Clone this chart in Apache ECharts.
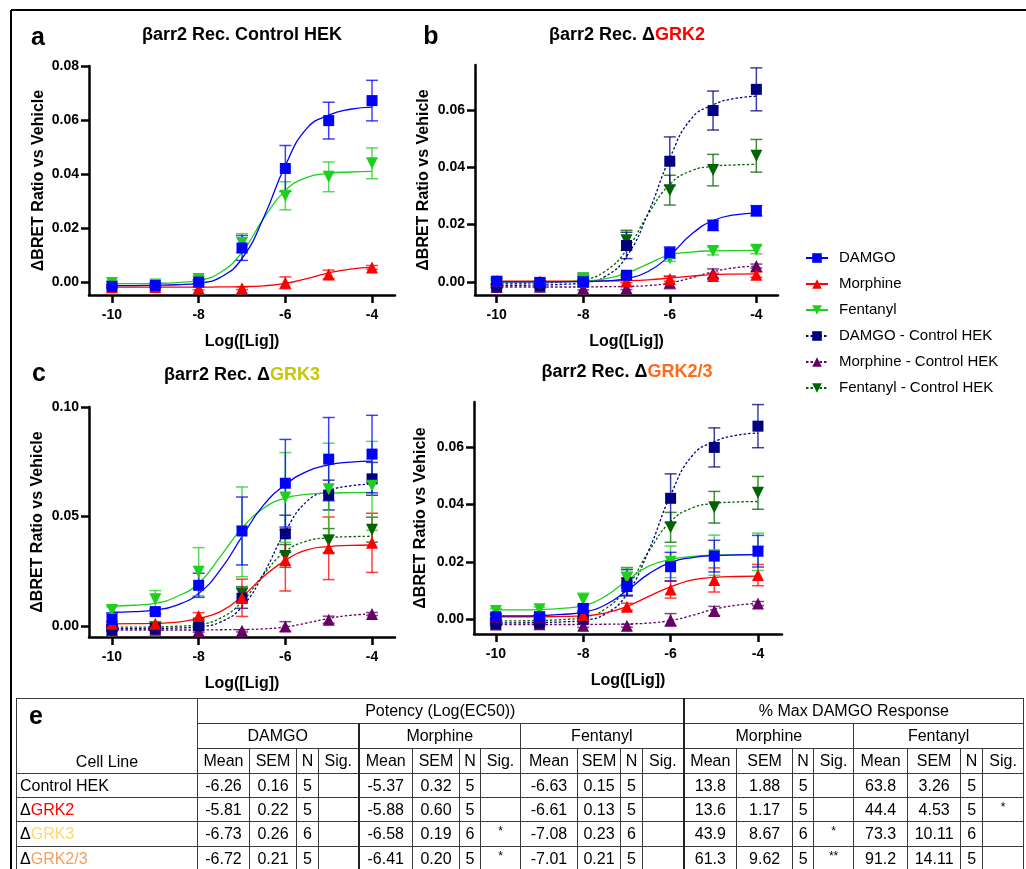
<!DOCTYPE html>
<html>
<head>
<meta charset="utf-8">
<title>barr2 recruitment</title>
<script src="https://cdn.jsdelivr.net/npm/echarts@6.0.0/dist/echarts.min.js"></script>
<style>
  body { margin: 0; background: #fff; }
  #page { position: relative; width: 1026px; height: 869px; overflow: hidden; background: #fff; }
  #chart { position: absolute; left: 0; top: 0; width: 1026px; height: 869px; }
  #tbl { position: absolute; left: 16px; top: 698px; font-family: 'Liberation Sans', Arial, sans-serif; }
  #tbl table { border-collapse: collapse; table-layout: fixed; width: 1007px; font-size: 16px; color: #000; }
  #tbl td { border: 1px solid #3a3a3a; padding: 0; text-align: center; white-space: nowrap; overflow: hidden; line-height: 20px; }
  #tbl td.gl { border-left: 2px solid #222; }
  #tbl td.name { text-align: left; padding-left: 3px; }
  #tbl td.cl { vertical-align: bottom; padding-bottom: 1px; }
  #tbl td.sig { font-size: 12px; vertical-align: top; line-height: 18px; }
  #tbl .letter { position: absolute; left: 13px; top: 5px; font: bold 25px 'Liberation Sans', Arial, sans-serif; line-height: 25px; }
</style>
</head>
<body>
<div id="page">
  <div id="chart"></div>
  <div id="tbl"></div>
</div>
<script>
const FONT = "'Liberation Sans', Arial, sans-serif";

// log concentrations of the measured points
const doses = [-10, -9, -8, -7, -6, -5, -4];
const fitX = [-10, -9.5, -9, -8.5, -8, -7.5, -7, -6.5, -6, -5.5, -5, -4.5, -4];
const xTicks = [-10, -8, -6, -4];

// Control HEK
const ctlDamgoMean = [-0.0015, -0.0012, 0.0001, 0.0127, 0.0421, 0.0598, 0.0672];
const ctlDamgoSem = [0.0005, 0.0005, 0.0008, 0.0046, 0.0085, 0.0068, 0.0075];
const ctlDamgoFit = [-0.0012, -0.0012, -0.0011, -0.0009, -0.0003, 0.0018, 0.0088, 0.0240, 0.0432, 0.0570, 0.0618, 0.0640, 0.0648];
const ctlMorphMean = [-0.0018, -0.0017, -0.0022, -0.0022, -0.0002, 0.0029, 0.0055];
const ctlMorphSem = [0.0004, 0.0004, 0.0006, 0.0005, 0.0022, 0.0016, 0.0007];
const ctlMorphFit = [-0.0018, -0.0018, -0.0018, -0.0018, -0.0018, -0.0017, -0.0016, -0.0013, -0.0004, 0.0014, 0.0035, 0.0049, 0.0055];
const ctlFentMean = [-0.0003, -0.0008, 0.0012, 0.0145, 0.0320, 0.0390, 0.0440];
const ctlFentSem = [0.0008, 0.0006, 0.0012, 0.0035, 0.0052, 0.0055, 0.0057];
const ctlFentFit = [-0.0005, -0.0005, -0.0004, -0.0001, 0.0007, 0.0036, 0.0111, 0.0236, 0.0340, 0.0388, 0.0403, 0.0408, 0.0410];

// dGRK2
const g2DamgoMean = [0.0002, -0.0002, 0.0000, 0.0023, 0.0102, 0.0197, 0.0248];
const g2DamgoSem = [0.0008, 0.0005, 0.0005, 0.0006, 0.0020, 0.0018, 0.0018];
const g2DamgoFit = [0.0000, 0.0000, 0.0000, 0.0000, 0.0001, 0.0003, 0.0011, 0.0036, 0.0092, 0.0166, 0.0214, 0.0234, 0.0240];
const g2MorphMean = [0.0003, 0.0001, 0.0000, 0.0002, 0.0010, 0.0020, 0.0025];
const g2MorphSem = [0.0012, 0.0004, 0.0004, 0.0005, 0.0008, 0.0010, 0.0009];
const g2MorphFit = [0.0002, 0.0002, 0.0002, 0.0002, 0.0002, 0.0003, 0.0004, 0.0007, 0.0013, 0.0020, 0.0025, 0.0027, 0.0028];
const g2FentMean = [0.0000, -0.0004, 0.0012, 0.0020, 0.0082, 0.0108, 0.0112];
const g2FentSem = [0.0005, 0.0005, 0.0006, 0.0006, 0.0010, 0.0014, 0.0014];
const g2FentFit = [0.0000, 0.0000, 0.0000, 0.0001, 0.0003, 0.0010, 0.0030, 0.0063, 0.0094, 0.0104, 0.0108, 0.0109, 0.0110];

// dGRK3
const g3DamgoMean = [0.0030, 0.0066, 0.0186, 0.0434, 0.0652, 0.0762, 0.0785];
const g3DamgoSem = [0.0030, 0.0010, 0.0055, 0.0155, 0.0200, 0.0190, 0.0177];
const g3DamgoFit = [0.0063, 0.0066, 0.0073, 0.0096, 0.0149, 0.0256, 0.0408, 0.0553, 0.0645, 0.0706, 0.0736, 0.0748, 0.0753];
const g3MorphMean = [0.0010, 0.0010, 0.0046, 0.0129, 0.0300, 0.0355, 0.0380];
const g3MorphSem = [0.0010, 0.0010, 0.0015, 0.0085, 0.0140, 0.0143, 0.0135];
const g3MorphFit = [0.0010, 0.0011, 0.0012, 0.0018, 0.0035, 0.0066, 0.0134, 0.0226, 0.0300, 0.0348, 0.0363, 0.0368, 0.0370];
const g3FentMean = [0.0073, 0.0122, 0.0248, 0.0430, 0.0587, 0.0625, 0.0640];
const g3FentSem = [0.0015, 0.0040, 0.0110, 0.0205, 0.0205, 0.0210, 0.0203];
const g3FentFit = [0.0091, 0.0095, 0.0104, 0.0135, 0.0195, 0.0317, 0.0447, 0.0538, 0.0584, 0.0601, 0.0607, 0.0609, 0.0610];

// dGRK2/3
const g23DamgoMean = [0.0009, 0.0009, 0.0038, 0.0114, 0.0183, 0.0220, 0.0237];
const g23DamgoSem = [0.0010, 0.0008, 0.0012, 0.0030, 0.0050, 0.0055, 0.0055];
const g23DamgoFit = [0.0012, 0.0012, 0.0013, 0.0017, 0.0025, 0.0050, 0.0100, 0.0158, 0.0198, 0.0215, 0.0222, 0.0224, 0.0225];
const g23MorphMean = [0.0010, 0.0010, 0.0015, 0.0044, 0.0104, 0.0137, 0.0154];
const g23MorphSem = [0.0005, 0.0005, 0.0008, 0.0012, 0.0030, 0.0042, 0.0037];
const g23MorphFit = [0.0009, 0.0009, 0.0009, 0.0010, 0.0012, 0.0022, 0.0045, 0.0080, 0.0113, 0.0137, 0.0146, 0.0149, 0.0150];
const g23FentMean = [0.0029, 0.0035, 0.0069, 0.0145, 0.0200, 0.0223, 0.0235];
const g23FentSem = [0.0008, 0.0008, 0.0022, 0.0035, 0.0055, 0.0070, 0.0065];
const g23FentFit = [0.0033, 0.0033, 0.0034, 0.0038, 0.0048, 0.0080, 0.0135, 0.0185, 0.0208, 0.0219, 0.0223, 0.0224, 0.0225];

const legendNames = ['DAMGO', 'Morphine', 'Fentanyl', 'DAMGO - Control HEK', 'Morphine - Control HEK', 'Fentanyl - Control HEK'];

// table e
const cellLines = ['Control HEK', 'GRK2', 'GRK3', 'GRK2/3'];
const cellLineColors = ['#000000', '#FF0000', '#FFD966', '#F3A05C'];
const groupNames = ['DAMGO', 'Morphine', 'Fentanyl', 'Morphine', 'Fentanyl'];
const subHeads = ['Mean', 'SEM', 'N', 'Sig.'];
const potencyDamgo = [['-6.26', '0.16', '5', ''], ['-5.81', '0.22', '5', ''], ['-6.73', '0.26', '6', ''], ['-6.72', '0.21', '5', '']];
const potencyMorphine = [['-5.37', '0.32', '5', ''], ['-5.88', '0.60', '5', ''], ['-6.58', '0.19', '6', '*'], ['-6.41', '0.20', '5', '*']];
const potencyFentanyl = [['-6.63', '0.15', '5', ''], ['-6.61', '0.13', '5', ''], ['-7.08', '0.23', '6', ''], ['-7.01', '0.21', '5', '']];
const maxMorphine = [['13.8', '1.88', '5', ''], ['13.6', '1.17', '5', ''], ['43.9', '8.67', '6', '*'], ['61.3', '9.62', '5', '**']];
const maxFentanyl = [['63.8', '3.26', '5', ''], ['44.4', '4.53', '5', '*'], ['73.3', '10.11', '6', ''], ['91.2', '14.11', '5', '']];

const C = {
    damgo: '#0000FF', morph: '#FF0000', fent: '#1ED01E',
    ctlDamgo: '#000080', ctlMorph: '#660066', ctlFent: '#006400'
};

function set(name, mean, sem, fit, color, symbol, rotate, dash) {
    return { name: name, mean: mean, sem: sem, fit: fit, color: color, symbol: symbol, rotate: rotate, dash: dash };
}

const ctlDashed = [
    set('Morphine - Control HEK', ctlMorphMean, ctlMorphSem, ctlMorphFit, C.ctlMorph, 'triangle', 0, true),
    set('Fentanyl - Control HEK', ctlFentMean, ctlFentSem, ctlFentFit, C.ctlFent, 'triangle', 180, true),
    set('DAMGO - Control HEK', ctlDamgoMean, ctlDamgoSem, ctlDamgoFit, C.ctlDamgo, 'rect', 0, true)
];

const panels = [
    {
        letter: 'a', letterX: 38, letterY: 38,
        title: '{k|βarr2 Rec. Control HEK}', titleX: 242, titleY: 35, titleColor: '#000',
        grid: { left: 89, top: 66, width: 306, height: 229 },
        xMin: -10.53, xMax: -3.47, yMin: -0.0047, yMax: 0.08,
        yTicks: [0, 0.02, 0.04, 0.06, 0.08], digits: 2, yGap: 42,
        sets: [
            set('Control Morphine', ctlMorphMean, ctlMorphSem, ctlMorphFit, C.morph, 'triangle', 0, false),
            set('Control Fentanyl', ctlFentMean, ctlFentSem, ctlFentFit, C.fent, 'triangle', 180, false),
            set('Control DAMGO', ctlDamgoMean, ctlDamgoSem, ctlDamgoFit, C.damgo, 'rect', 0, false)
        ]
    },
    {
        letter: 'b', letterX: 431, letterY: 37,
        title: '{k|βarr2 Rec. Δ}{c|GRK2}', titleX: 627, titleY: 35, titleColor: '#FF0000',
        grid: { left: 475, top: 65, width: 303, height: 230 },
        xMin: -10.5, xMax: -3.5, yMin: -0.0046, yMax: 0.0757,
        yTicks: [0, 0.02, 0.04, 0.06], digits: 2, yGap: 43,
        sets: ctlDashed.concat([
            set('Morphine', g2MorphMean, g2MorphSem, g2MorphFit, C.morph, 'triangle', 0, false),
            set('Fentanyl', g2FentMean, g2FentSem, g2FentFit, C.fent, 'triangle', 180, false),
            set('DAMGO', g2DamgoMean, g2DamgoSem, g2DamgoFit, C.damgo, 'rect', 0, false)
        ])
    },
    {
        letter: 'c', letterX: 39, letterY: 374,
        title: '{k|βarr2 Rec. Δ}{c|GRK3}', titleX: 242, titleY: 375, titleColor: '#C8C800',
        grid: { left: 89, top: 407, width: 306, height: 230 },
        xMin: -10.53, xMax: -3.47, yMin: -0.005, yMax: 0.10,
        yTicks: [0, 0.05, 0.10], digits: 2, yGap: 43,
        sets: ctlDashed.concat([
            set('Morphine', g3MorphMean, g3MorphSem, g3MorphFit, C.morph, 'triangle', 0, false),
            set('Fentanyl', g3FentMean, g3FentSem, g3FentFit, C.fent, 'triangle', 180, false),
            set('DAMGO', g3DamgoMean, g3DamgoSem, g3DamgoFit, C.damgo, 'rect', 0, false)
        ])
    },
    {
        letter: '', letterX: 0, letterY: 0,
        title: '{k|βarr2 Rec. Δ}{c|GRK2/3}', titleX: 627, titleY: 372, titleColor: '#FF6A1A',
        grid: { left: 474, top: 402, width: 308, height: 232 },
        xMin: -10.5, xMax: -3.45, yMin: -0.0051, yMax: 0.0756,
        yTicks: [0, 0.02, 0.04, 0.06], digits: 2, yGap: 45,
        sets: ctlDashed.concat([
            set('Morphine', g23MorphMean, g23MorphSem, g23MorphFit, C.morph, 'triangle', 0, false),
            set('Fentanyl', g23FentMean, g23FentSem, g23FentFit, C.fent, 'triangle', 180, false),
            set('DAMGO', g23DamgoMean, g23DamgoSem, g23DamgoFit, C.damgo, 'rect', 0, false)
        ])
    }
];

function renderErr(params, api) {
    const x = api.value(0);
    const top = api.coord([x, api.value(2)]);
    const bot = api.coord([x, api.value(1)]);
    const w = 6;
    const style = { stroke: api.visual('color'), lineWidth: 1.5, opacity: 0.75 };
    return {
        type: 'group',
        children: [
            { type: 'line', shape: { x1: top[0], y1: top[1], x2: bot[0], y2: bot[1] }, style: style },
            { type: 'line', shape: { x1: top[0] - w, y1: top[1], x2: top[0] + w, y2: top[1] }, style: style },
            { type: 'line', shape: { x1: bot[0] - w, y1: bot[1], x2: bot[0] + w, y2: bot[1] }, style: style }
        ]
    };
}

const grids = [], xAxes = [], yAxes = [], series = [], graphics = [];
const axisText = { fontFamily: FONT, fontWeight: 'bold', fontSize: 14, color: '#000' };

panels.forEach(function (p, i) {
    grids.push(p.grid);
    xAxes.push({
        type: 'value', gridIndex: i, min: p.xMin, max: p.xMax,
        name: 'Log([Lig])', nameLocation: 'middle', nameGap: 39,
        nameTextStyle: { fontFamily: FONT, fontWeight: 'bold', fontSize: 16, color: '#000' },
        axisLine: { show: true, onZero: false, lineStyle: { color: '#000', width: 2.5 } },
        axisTick: { show: true, length: 8, customValues: xTicks, lineStyle: { color: '#000', width: 2.5 } },
        axisLabel: Object.assign({ customValues: xTicks, margin: 13 }, axisText),
        splitLine: { show: false }
    });
    yAxes.push({
        type: 'value', gridIndex: i, min: p.yMin, max: p.yMax,
        name: 'ΔBRET Ratio vs Vehicle', nameLocation: 'middle', nameGap: p.yGap,
        nameTextStyle: { fontFamily: FONT, fontWeight: 'bold', fontSize: 16, color: '#000' },
        axisLine: { show: true, onZero: false, lineStyle: { color: '#000', width: 2.5 } },
        axisTick: { show: true, length: 8, customValues: p.yTicks, lineStyle: { color: '#000', width: 2.5 } },
        axisLabel: Object.assign({
            customValues: p.yTicks, margin: 10,
            formatter: function (v) { return v.toFixed(p.digits); }
        }, axisText),
        splitLine: { show: false }
    });

    p.sets.forEach(function (s) {
        series.push({
            type: 'line', name: s.name, xAxisIndex: i, yAxisIndex: i,
            data: fitX.map(function (x, k) { return [x, s.fit[k]]; }),
            smooth: 0.5, showSymbol: false,
            symbol: s.symbol, symbolRotate: s.rotate, silent: true, z: 2,
            itemStyle: { color: s.color },
            lineStyle: { color: s.color, width: 1.3, type: s.dash ? [2.5, 2] : 'solid' }
        });
    });
    p.sets.forEach(function (s) {
        series.push({
            type: 'custom', name: s.name, xAxisIndex: i, yAxisIndex: i,
            renderItem: renderErr, encode: { x: 0, y: [1, 2] }, silent: true, z: 3,
            itemStyle: { color: s.color },
            data: doses.map(function (x, k) { return [x, s.mean[k] - s.sem[k], s.mean[k] + s.sem[k]]; })
        });
    });
    p.sets.forEach(function (s) {
        series.push({
            type: 'scatter', name: s.name, xAxisIndex: i, yAxisIndex: i,
            symbol: s.symbol, symbolRotate: s.rotate, symbolSize: s.symbol === 'rect' ? 11 : 12,
            itemStyle: { color: s.color, opacity: 1 }, z: 4,
            data: doses.map(function (x, k) { return [x, s.mean[k]]; })
        });
    });

    if (p.letter) {
        graphics.push({
            type: 'text', x: p.letterX, y: p.letterY,
            style: { text: p.letter, font: 'bold 25px ' + FONT, fill: '#000', textAlign: 'center', textVerticalAlign: 'middle' }
        });
    }
    graphics.push({
        type: 'text', x: p.titleX, y: p.titleY,
        style: {
            text: p.title, textAlign: 'center', textVerticalAlign: 'middle',
            fontFamily: FONT, fontSize: 18, fontWeight: 'bold', fill: '#000',
            rich: {
                k: { fontFamily: FONT, fontSize: 18, fontWeight: 'bold', fill: '#000' },
                c: { fontFamily: FONT, fontSize: 18, fontWeight: 'bold', fill: p.titleColor }
            }
        }
    });
});

// figure frame
graphics.push({ type: 'line', shape: { x1: 11, y1: 10, x2: 1026, y2: 10 }, style: { stroke: '#000', lineWidth: 2 } });
graphics.push({ type: 'line', shape: { x1: 11, y1: 10, x2: 11, y2: 869 }, style: { stroke: '#000', lineWidth: 2 } });

const chart = echarts.init(document.getElementById('chart'));
chart.setOption({
    animation: false,
    backgroundColor: '#fff',
    textStyle: { fontFamily: FONT },
    grid: grids,
    xAxis: xAxes,
    yAxis: yAxes,
    legend: {
        data: legendNames, orient: 'vertical', left: 800, top: 245,
        itemWidth: 22, itemHeight: 12, itemGap: 10, selectedMode: false,
        textStyle: { fontFamily: FONT, fontSize: 15, color: '#000', lineHeight: 16, padding: [0, 0, 0, 6] }
    },
    graphic: graphics,
    series: series
});

// table e
const colWidths = [181, 52, 47, 22, 40, 54, 47, 21, 40, 57, 43, 22, 41, 53, 56, 21, 40, 54, 53, 22, 41];
const rowHeights = [25, 25, 25, 24, 24, 25, 24];
const groups = [potencyDamgo, potencyMorphine, potencyFentanyl, maxMorphine, maxFentanyl];
const thick = [false, true, false, true, false];

let h = '<span class="letter">e</span><table><colgroup>';
colWidths.forEach(function (w) { h += '<col style="width:' + w + 'px">'; });
h += '</colgroup>';
h += '<tr style="height:' + rowHeights[0] + 'px"><td rowspan="3" class="cl">Cell Line</td>' +
     '<td colspan="12">Potency (Log(EC50))</td><td colspan="8" class="gl">% Max DAMGO Response</td></tr>';
h += '<tr style="height:' + rowHeights[1] + 'px">';
groupNames.forEach(function (g, i) { h += '<td colspan="4"' + (thick[i] ? ' class="gl"' : '') + '>' + g + '</td>'; });
h += '</tr><tr style="height:' + rowHeights[2] + 'px">';
groupNames.forEach(function (g, i) {
    subHeads.forEach(function (s, j) { h += '<td' + (thick[i] && j === 0 ? ' class="gl"' : '') + '>' + s + '</td>'; });
});
h += '</tr>';
cellLines.forEach(function (name, r) {
    h += '<tr style="height:' + rowHeights[r + 3] + 'px"><td class="name">';
    h += r === 0 ? name : 'Δ<span style="color:' + cellLineColors[r] + '">' + name + '</span>';
    h += '</td>';
    groups.forEach(function (g, i) {
        g[r].forEach(function (v, j) {
            const cls = [];
            if (thick[i] && j === 0) cls.push('gl');
            if (j === 3) cls.push('sig');
            h += '<td' + (cls.length ? ' class="' + cls.join(' ') + '"' : '') + '>' + v + '</td>';
        });
    });
    h += '</tr>';
});
h += '</table>';
document.getElementById('tbl').innerHTML = h;
</script>
</body>
</html>
